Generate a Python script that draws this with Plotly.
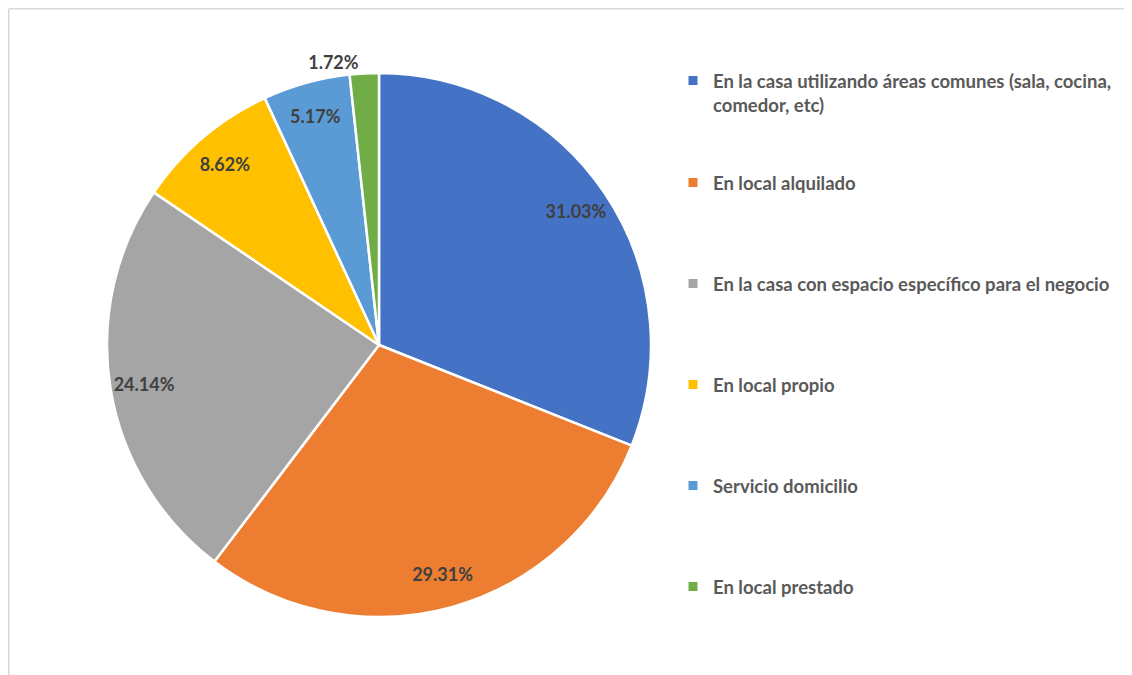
import plotly.graph_objects as go

categories = [
    "En la casa utilizando áreas comunes (sala, cocina,<br>comedor, etc)",
    "En local alquilado",
    "En la casa con espacio específico para el negocio",
    "En local propio",
    "Servicio domicilio",
    "En local prestado",
]
counts = [18, 17, 14, 5, 3, 1]
colors = ["#4472C4", "#ED7D31", "#A5A5A5", "#FFC000", "#5B9BD5", "#70AD47"]
label_positions = ["inside", "inside", "inside", "inside", "inside", "outside"]

# page has an 8px body margin, so the figure is 8px smaller than the window
W, H = 1124, 667
FONT = "Lato"
dom_x = [99 / W, 643 / W]
dom_y = [1 - 609 / H, 1 - 65 / H]

fig = go.Figure()

# main pie (colors)
fig.add_trace(go.Pie(
    labels=categories, values=counts, sort=False, direction="clockwise",
    marker=dict(colors=colors, line=dict(color="white", width=2.5)),
    textinfo="none", showlegend=False, domain=dict(x=dom_x, y=dom_y),
    hoverinfo="label+percent",
))

# transparent ring carrying the data labels near the rim
fig.add_trace(go.Pie(
    labels=categories, values=counts, sort=False, direction="clockwise",
    hole=0.75,
    marker=dict(colors=["rgba(0,0,0,0)"] * len(counts), line=dict(width=0)),
    texttemplate="%{percent:.2%}", textposition=label_positions,
    insidetextorientation="horizontal",
    insidetextfont=dict(family=FONT, size=18, color="#404040", weight="bold"),
    outsidetextfont=dict(family=FONT, size=18, color="#404040", weight="bold"),
    showlegend=False, domain=dict(x=dom_x, y=dom_y), hoverinfo="skip",
))

# legend entries, each in its own legend box so spacing matches
legend_centers = [85, 175, 276, 377, 478, 579]
for i, (cat, col) in enumerate(zip(categories, colors)):
    lname = "legend" if i == 0 else f"legend{i + 1}"
    fig.add_trace(go.Scatter(
        x=[None], y=[None], mode="markers", name=cat,
        marker=dict(symbol="square", size=9, color=col),
        legend=lname, showlegend=True,
    ))
    fig.update_layout({lname: dict(
        x=665 / W, xanchor="left", y=1 - legend_centers[i] / H, yanchor="middle",
        bgcolor="rgba(0,0,0,0)", borderwidth=0, valign="top",
        font=dict(family=FONT, size=18.5, color="#595959", weight="bold"),
    )})

fig.update_layout(
    width=W, height=H, margin=dict(l=0, r=0, t=0, b=0),
    paper_bgcolor="white", plot_bgcolor="white",
    xaxis=dict(visible=False), yaxis=dict(visible=False),
    shapes=[
        dict(type="line", xref="paper", yref="paper", x0=0.75 / W, x1=1,
             y0=1 - 0.75 / H, y1=1 - 0.75 / H, line=dict(color="#D9D9D9", width=1.5)),
        dict(type="line", xref="paper", yref="paper", x0=0.75 / W, x1=0.75 / W,
             y0=1 - 0.75 / H, y1=0, line=dict(color="#D9D9D9", width=1.5)),
    ],
)

fig.write_html("out.html")
